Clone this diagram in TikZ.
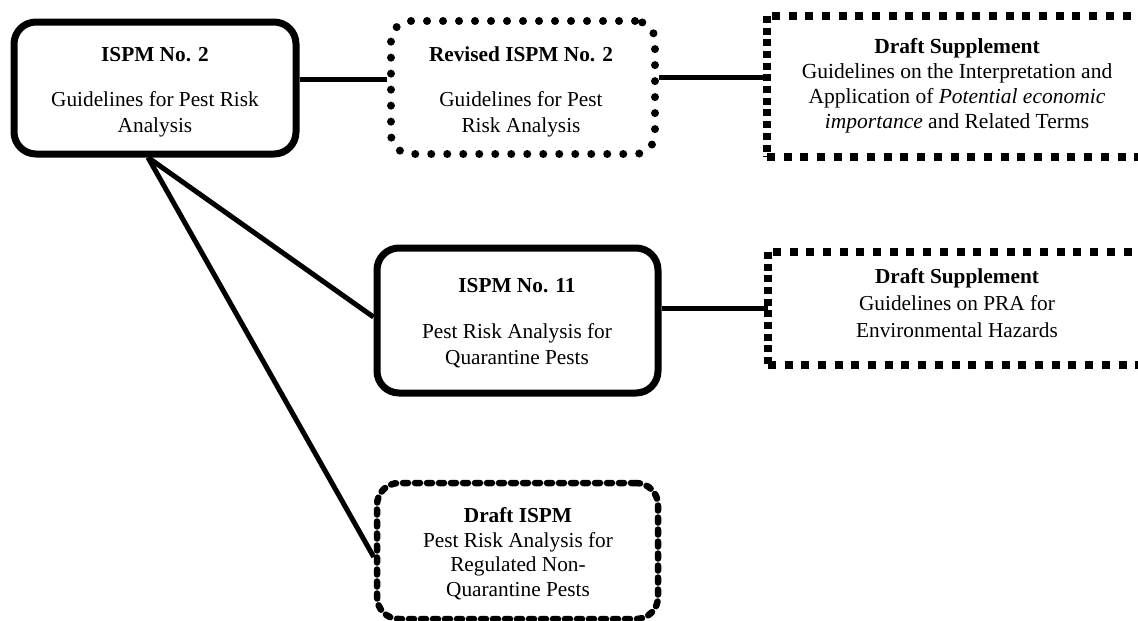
\documentclass[tikz,border=0pt]{standalone}
\usepackage{fontspec}
\setmainfont{Liberation Serif}
\usetikzlibrary{calc}
\tikzset{
  solidbox/.style={draw, line width=7pt, rounded corners=22pt},
  dotbox/.style={draw, line width=8pt, rounded corners=20pt, line cap=round, dash pattern=on 0pt off 16pt},
  roundash/.style={draw, line width=6.5pt, rounded corners=22pt, line cap=round, dash pattern=on 5pt off 7pt},
  sqH/.style={line width=8pt, line cap=butt, dash pattern=on 8pt off 8.7pt},
  sqV/.style={line width=8pt, line cap=butt, dash pattern=on 7pt off 4.7pt},
  conn/.style={line width=5pt},
  txt/.style={align=center, inner sep=0pt, font=\fontsize{21.3}{26}\selectfont},
}
\begin{document}
\begin{tikzpicture}[x=1pt,y=-1pt]
\useasboundingbox (0,0) rectangle (1138,621);
% boxes
\node[solidbox, minimum width=282pt, minimum height=132pt] (A) at (155,88) {};
\node[dotbox, minimum width=264pt, minimum height=133pt] (B) at (523,87.5) {};
\node[minimum width=380pt, minimum height=141pt, inner sep=0pt] (C) at (957,86.5) {};
\node[solidbox, minimum width=281pt, minimum height=145pt] (D) at (517.5,320.5) {};
\node[minimum width=380pt, minimum height=113pt, inner sep=0pt] (E) at (958,308.5) {};
\node[roundash, minimum width=281pt, minimum height=136pt] (F) at (517.5,551) {};
% square-dotted frames of C and E
\draw[sqH] (C.north east) -- (C.north west);
\draw[sqV] (C.north west) -- (C.south west);
\draw[sqH] (C.south west) -- (C.south east);
\draw[sqH] (E.north east) -- (E.north west);
\draw[sqV] (E.north west) -- (E.south west);
\draw[sqH] (E.south west) -- (E.south east);
% texts
\node[txt] (tA) at (155,92.5) {\textbf{ISPM No. 2}\\[19pt]Guidelines for Pest Risk\\Analysis};
\node[txt] (tB) at (521,92) {\textbf{Revised ISPM No. 2}\\[19pt]Guidelines for Pest\\Risk Analysis};
\node[txt, font=\fontsize{21.5}{25}\selectfont] (tC) at (957,85.5) {\textbf{Draft Supplement}\\Guidelines on the Interpretation and\\Application of \textit{Potential economic}\\\textit{importance} and Related Terms};
\node[txt, font=\fontsize{21.3}{26.5}\selectfont] (tD) at (517,323.5) {\textbf{ISPM No. 11}\\[19pt]Pest Risk Analysis for\\Quarantine Pests};
\node[txt, font=\fontsize{21.3}{27}\selectfont] (tE) at (957,303) {\textbf{Draft Supplement}\\Guidelines on PRA for\\Environmental Hazards};
\node[txt, font=\fontsize{21.3}{24.5}\selectfont] (tF) at (518,553.5) {\textbf{Draft ISPM}\\Pest Risk Analysis for\\Regulated Non-\\Quarantine Pests};
% connectors
\draw[conn] ([yshift=9pt]A.east) -- ([yshift=8.5pt]B.west);
\draw[conn] ([yshift=10.5pt]B.east) -- ([yshift=9.5pt]C.west);
\draw[conn] (E.west -| D.east) -- (E.west);
\draw[conn] ([xshift=-7pt]A.south) -- ([yshift=3.5pt]D.west);
\draw[conn] ([xshift=-7pt]A.south) -- ([yshift=-6pt]F.west);
\end{tikzpicture}
\end{document}
